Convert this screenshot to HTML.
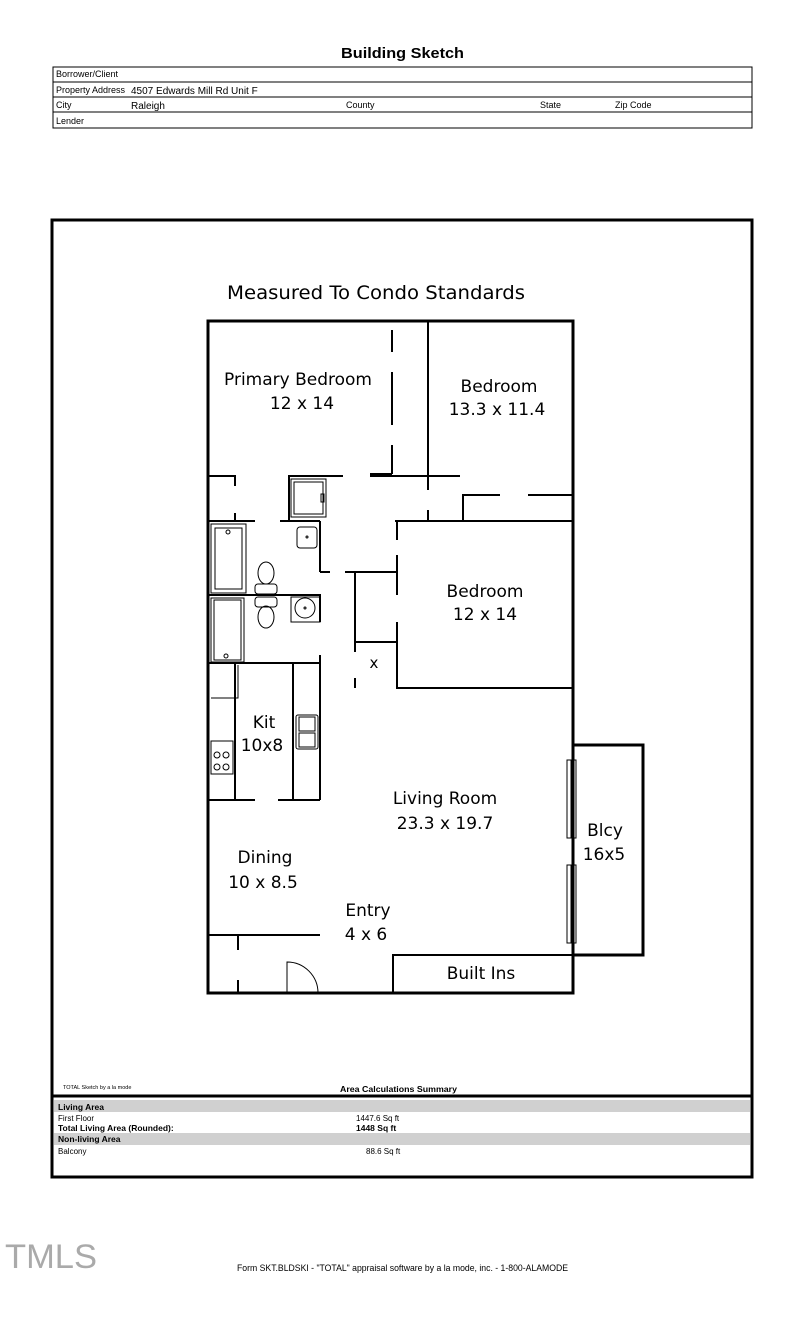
<!DOCTYPE html>
<html><head><meta charset="utf-8"><style>
html,body{margin:0;padding:0;background:#fff;}
svg{display:block;}
text{font-family:"DejaVu Sans","Liberation Sans",sans-serif;fill:#000;}
.s{font-family:"Liberation Sans",sans-serif;}
</style></head><body>
<svg width="800" height="1317" viewBox="0 0 800 1317" xmlns="http://www.w3.org/2000/svg">
<rect width="800" height="1317" fill="#fff"/>
<text x="341" y="58" class="s" font-size="15" font-weight="bold" textLength="123" lengthAdjust="spacingAndGlyphs">Building Sketch</text>
<g stroke="#000" stroke-width="1" fill="none">
<rect x="53" y="67" width="699" height="61"/>
<line x1="53" y1="82" x2="752" y2="82"/><line x1="53" y1="97" x2="752" y2="97"/><line x1="53" y1="112" x2="752" y2="112"/>
</g>
<g fill="#333">
<text x="56" y="77" class="s" font-size="9">Borrower/Client</text>
<text x="56" y="93" class="s" font-size="9">Property Address</text>
<text x="131" y="94" class="s" font-size="10">4507 Edwards Mill Rd Unit F</text>
<text x="56" y="108" class="s" font-size="9">City</text>
<text x="131" y="109" class="s" font-size="10">Raleigh</text>
<text x="346" y="108" class="s" font-size="9">County</text>
<text x="540" y="108" class="s" font-size="9">State</text>
<text x="615" y="108" class="s" font-size="9">Zip Code</text>
<text x="56" y="124" class="s" font-size="9">Lender</text>
</g>
<rect x="52" y="220" width="700" height="957" fill="none" stroke="#000" stroke-width="3"/>
<line x1="52" y1="1096" x2="752" y2="1096" stroke="#000" stroke-width="3"/>
<rect x="54" y="1100" width="696" height="12" fill="#d0d0d0"/>
<rect x="54" y="1133" width="696" height="12" fill="#d0d0d0"/>
<g>
<text x="63" y="1089" class="s" font-size="5.5">TOTAL Sketch by a la mode</text>
<text x="340" y="1092" class="s" font-size="8.5" font-weight="bold" textLength="117" lengthAdjust="spacingAndGlyphs">Area Calculations Summary</text>
<text x="58" y="1110" class="s" font-size="8.5" font-weight="bold">Living Area</text>
<text x="58" y="1121" class="s" font-size="8">First Floor</text>
<text x="356" y="1121" class="s" font-size="8">1447.6 Sq ft</text>
<text x="58" y="1131" class="s" font-size="8.5" font-weight="bold">Total Living Area (Rounded):</text>
<text x="356" y="1131" class="s" font-size="8.5" font-weight="bold">1448 Sq ft</text>
<text x="58" y="1142" class="s" font-size="8.5" font-weight="bold">Non-living Area</text>
<text x="58" y="1154" class="s" font-size="8">Balcony</text>
<text x="366" y="1154" class="s" font-size="8">88.6 Sq ft</text>
</g>
<text x="376" y="299" text-anchor="middle" font-size="19" textLength="298" lengthAdjust="spacingAndGlyphs">Measured To Condo Standards</text>
<g stroke="#000" fill="none" stroke-width="3">
<rect x="208" y="321" width="365" height="672"/>
<rect x="573" y="745" width="70" height="210"/>
</g>
<g stroke="#000" fill="none" stroke-width="2">
<line x1="428" y1="321" x2="428" y2="490"/>
<line x1="392" y1="330" x2="392" y2="352"/><line x1="392" y1="372" x2="392" y2="425"/><line x1="392" y1="445" x2="392" y2="474"/>
<line x1="370" y1="474" x2="392" y2="474"/>
<path d="M208 476 H235 V486 M235 513 V521 M208 521 H255 M280 521 H320"/>
<path d="M289 521 V476 H343 M370 476 H460"/>
<path d="M463 521 V495 H500 M528 495 H573"/>
<path d="M428 510 V521 M395 521 H573 M397 521 V540 M320 521 V572 M320 572 H330 M345 572 H397"/>
<path d="M397 555 V595 M397 622 V688 H573 M355 572 V652 M355 678 V688 M355 642 H397"/>
<path d="M208 595 H320 V622 M208 663 H320 M320 655 V800 M235 663 V800 M293 663 V800"/>
<path d="M208 800 H255 M278 800 H320"/>
<path d="M208 935 H320 M238 935 V950 M238 980 V993 M393 993 V955 H573"/>
</g>
<g stroke="#000" fill="none" stroke-width="1">
<rect x="291" y="479" width="35" height="38"/><rect x="294" y="482" width="29" height="32"/><rect x="321" y="494" width="3" height="8"/>
<rect x="211" y="524" width="35" height="69"/><rect x="215" y="528" width="27" height="61"/><circle cx="228" cy="532" r="2"/>
<rect x="211" y="598" width="33" height="64"/><rect x="214" y="600" width="27" height="60"/><circle cx="226" cy="656" r="2"/>
<ellipse cx="266" cy="573" rx="8" ry="11"/><rect x="255" y="584" width="22" height="10" rx="3"/>
<rect x="255" y="597" width="22" height="10" rx="3"/><ellipse cx="266" cy="617" rx="8" ry="11"/>
<rect x="297" y="527" width="20" height="21" rx="3"/><circle cx="307" cy="537" r="1"/>
<rect x="291" y="597" width="29" height="25"/><circle cx="305" cy="608" r="10"/><circle cx="305" cy="608" r="1"/>
<rect x="296" y="715" width="22" height="34" rx="2"/><rect x="299" y="717" width="16" height="14"/><rect x="299" y="733" width="16" height="14"/>
<rect x="211" y="741" width="22" height="33"/><circle cx="217" cy="755" r="3"/><circle cx="226" cy="755" r="3"/><circle cx="217" cy="767" r="3"/><circle cx="226" cy="767" r="3"/>
<path d="M211 698 H238 V665"/>
<rect x="567" y="760" width="9" height="78"/><line x1="571" y1="760" x2="571" y2="838"/>
<rect x="567" y="865" width="9" height="78"/><line x1="571" y1="865" x2="571" y2="943"/>
<path d="M287 993 V962 A31 31 0 0 1 318 993"/>
</g>
<g font-size="17" text-anchor="middle">
<text x="298" y="385">Primary Bedroom</text><text x="302" y="409">12 x 14</text>
<text x="499" y="392">Bedroom</text><text x="497" y="415">13.3 x 11.4</text>
<text x="485" y="597">Bedroom</text><text x="485" y="620">12 x 14</text>
<text x="374" y="668" font-size="15">x</text>
<text x="264" y="728">Kit</text><text x="262" y="751">10x8</text>
<text x="445" y="804">Living Room</text><text x="445" y="829">23.3 x 19.7</text>
<text x="605" y="836">Blcy</text><text x="604" y="860">16x5</text>
<text x="265" y="863">Dining</text><text x="263" y="888">10 x 8.5</text>
<text x="368" y="916">Entry</text><text x="366" y="940">4 x 6</text>
<text x="481" y="979">Built Ins</text>
</g>
<text x="5" y="1268" class="s" font-size="34" style="fill:#aaa" textLength="92" lengthAdjust="spacingAndGlyphs">TMLS</text>
<text x="237" y="1271" class="s" font-size="9.5" textLength="331" lengthAdjust="spacingAndGlyphs">Form SKT.BLDSKI - "TOTAL" appraisal software by a la mode, inc. - 1-800-ALAMODE</text>
</svg>
</body></html>
